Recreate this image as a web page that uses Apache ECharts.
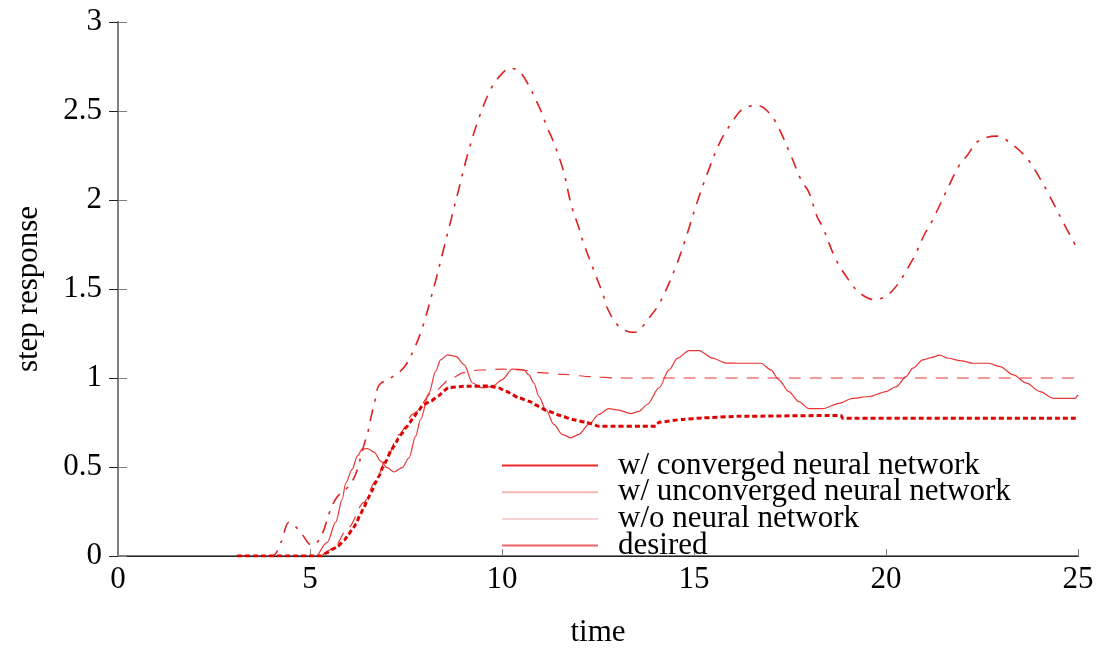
<!DOCTYPE html>
<html>
<head>
<meta charset="utf-8">
<script src="https://cdn.jsdelivr.net/npm/echarts@6/dist/echarts.min.js"></script>
<style>html,body{margin:0;padding:0;background:#fff;}#c{width:1100px;height:649px;}</style>
</head>
<body>
<div id="c"></div>
<script>
const seriesNames = ['w/ converged neural network', 'w/ unconverged neural network', 'w/o neural network', 'desired'];
const xTicks = [0, 5, 10, 15, 20, 25];
const yTicks = [0, 0.5, 1, 1.5, 2, 2.5, 3];

// w/ converged neural network (dotted)
const tC = [3.1, 5.3, 5.45, 5.6, 5.7, 5.9, 6.0, 6.1, 6.2, 6.3, 6.4, 6.5, 6.6, 6.7, 6.8, 6.9, 7.0, 7.1, 7.2, 7.3, 7.4, 7.5, 7.6, 7.7, 7.8, 7.95, 8.15, 8.35, 8.5, 8.6, 9.0, 9.66, 9.92, 10.1, 10.45, 10.7, 10.96, 11.14, 11.53, 11.83, 12.18, 12.52, 14.0, 14.09, 14.7, 15.22, 16.17, 18.83, 18.87, 25];
const vC = [0, 0, 0.02, 0.04, 0.05, 0.09, 0.12, 0.15, 0.18, 0.23, 0.27, 0.32, 0.36, 0.41, 0.45, 0.50, 0.54, 0.59, 0.62, 0.66, 0.69, 0.72, 0.75, 0.78, 0.81, 0.85, 0.87, 0.90, 0.93, 0.945, 0.953, 0.955, 0.944, 0.925, 0.888, 0.869, 0.841, 0.819, 0.789, 0.767, 0.752, 0.729, 0.729, 0.752, 0.767, 0.776, 0.785, 0.79, 0.774, 0.774];

// w/ unconverged neural network (solid)
const tU = [5.2, 5.45, 5.67, 5.84, 5.93, 6.1, 6.23, 6.36, 6.49, 6.67, 6.84, 7.01, 7.19, 7.4, 7.58, 7.75, 7.88, 8.1, 8.27, 8.4, 8.58, 8.8, 9.02, 9.23, 9.49, 9.75, 10.0, 10.27, 10.57, 10.7, 10.83, 10.96, 11.14, 11.35, 11.57, 11.79, 12.0, 12.26, 12.52, 12.78, 13.04, 13.35, 13.57, 13.78, 14.09, 14.35, 14.57, 14.87, 15.13, 15.48, 15.83, 16.17, 16.74, 17.0, 17.21, 17.47, 17.73, 17.99, 18.35, 18.78, 19.13, 19.57, 20.0, 20.27, 20.52, 20.7, 20.96, 21.18, 21.4, 21.62, 21.97, 22.27, 22.67, 22.97, 23.32, 23.66, 24.01, 24.36, 24.92, 25.0];
const vU = [0, 0.077, 0.19, 0.32, 0.41, 0.487, 0.561, 0.60, 0.604, 0.584, 0.533, 0.496, 0.472, 0.496, 0.552, 0.673, 0.767, 0.916, 1.037, 1.102, 1.13, 1.121, 1.074, 0.972, 0.944, 0.953, 0.99, 1.05, 1.046, 1.018, 0.972, 0.897, 0.823, 0.739, 0.683, 0.664, 0.683, 0.739, 0.795, 0.828, 0.819, 0.800, 0.813, 0.851, 0.944, 1.046, 1.112, 1.154, 1.154, 1.112, 1.084, 1.083, 1.083, 1.046, 0.99, 0.923, 0.867, 0.828, 0.828, 0.858, 0.886, 0.896, 0.924, 0.952, 1.008, 1.055, 1.102, 1.115, 1.128, 1.111, 1.096, 1.083, 1.083, 1.064, 1.017, 0.971, 0.924, 0.886, 0.886, 0.905];

// w/o neural network (dash-dot)
const tW = [3.1, 4.0, 4.25, 4.45, 4.6, 4.8, 5.05, 5.2, 5.35, 5.5, 5.7, 6.0, 6.15, 6.25, 6.4, 6.5, 6.6, 6.7, 6.8, 7.1, 7.45, 7.72, 7.93, 8.26, 8.47, 8.68, 8.89, 9.1, 9.38, 9.72, 10.0, 10.2, 10.48, 10.97, 11.18, 11.31, 11.6, 11.8, 12.01, 12.09, 12.43, 12.64, 12.72, 13.0, 13.3, 13.47, 13.8, 14.1, 14.51, 14.8, 15.06, 15.35, 15.69, 16.0, 16.26, 16.6, 16.8, 17.1, 17.52, 17.78, 17.99, 18.2, 18.35, 18.69, 19.03, 19.32, 19.7, 20.16, 20.7, 20.99, 21.2, 21.62, 21.91, 22.12, 22.4, 22.87, 23.3, 23.71, 24.05, 24.21, 24.68, 25.0];
const vW = [0, 0, 0.08, 0.19, 0.17, 0.12, 0.06, 0.08, 0.14, 0.24, 0.33, 0.39, 0.44, 0.5, 0.62, 0.69, 0.79, 0.88, 0.96, 1.0, 1.06, 1.168, 1.285, 1.537, 1.716, 1.895, 2.074, 2.253, 2.449, 2.628, 2.71, 2.74, 2.718, 2.522, 2.405, 2.343, 2.164, 1.974, 1.839, 1.778, 1.582, 1.464, 1.403, 1.30, 1.26, 1.257, 1.33, 1.42, 1.616, 1.795, 1.974, 2.151, 2.331, 2.44, 2.51, 2.53, 2.52, 2.448, 2.252, 2.117, 2.044, 1.909, 1.848, 1.668, 1.55, 1.477, 1.44, 1.489, 1.668, 1.802, 1.881, 2.072, 2.196, 2.252, 2.33, 2.359, 2.31, 2.224, 2.106, 2.044, 1.848, 1.72];

// desired (dashed)
const tD = [5.3, 5.6, 6.0, 6.4, 6.7, 7.0, 7.3, 7.7, 8.2, 8.7, 9.0, 9.4, 10.0, 10.5, 11.0, 11.6, 12.3, 13.0, 25.0];
const vD = [0, 0.04, 0.16, 0.30, 0.42, 0.55, 0.68, 0.80, 0.92, 1.0, 1.03, 1.045, 1.05, 1.045, 1.03, 1.02, 1.008, 1.0, 1.0];

function zip(t, v) { const n = Math.min(t.length, v.length); const out = []; for (let i = 0; i < n; i++) out.push([t[i], v[i]]); return out; }

const FONT = 'Liberation Serif';
const FS = 31;
const chart = echarts.init(document.getElementById('c'), null, { renderer: 'canvas' });
const legendColors = ['#ee2a2a', '#f5b6b6', '#f8d2d2', '#f06262'];

chart.setOption({
  animation: false,
  backgroundColor: '#fff',
  grid: { left: 118, right: 22, top: 22, bottom: 93, containLabel: false, outerBoundsMode: 'none' },
  legend: {
    orient: 'vertical', left: 502, top: 450, padding: 0,
    itemWidth: 96, itemHeight: 2, itemGap: -4.3, icon: 'rect',
    selectedMode: false,
    textStyle: { fontFamily: FONT, fontSize: FS, color: '#000', padding: [0, 0, 0, 15] },
    data: seriesNames.map((n, i) => ({ name: n, itemStyle: { color: legendColors[i] } }))
  },
  xAxis: [{
    type: 'value', min: 0, max: 25, interval: 5,
    name: 'time', nameLocation: 'middle', nameGap: 61,
    nameTextStyle: { fontFamily: FONT, fontSize: FS, color: '#000' },
    axisLine: { show: true, lineStyle: { color: '#808080', width: 2 } },
    axisTick: { show: true, inside: true, length: 7, lineStyle: { color: '#808080', width: 1 } },
    axisLabel: { fontFamily: FONT, fontSize: FS, color: '#000', margin: 8, formatter: v => xTicks.includes(v) ? String(v) : '' },
    splitLine: { show: false }
  }, {
    type: 'value', min: 0, max: 25, interval: 5, position: 'top',
    axisLine: { show: true, lineStyle: { color: '#222', width: 1 } },
    axisTick: { show: false },
    axisLabel: { show: false }, splitLine: { show: false }
  }],
  yAxis: [{
    type: 'value', min: 0, max: 3, interval: 0.5,
    name: 'step response', nameLocation: 'middle', nameGap: 74, nameRotate: 90,
    nameTextStyle: { fontFamily: FONT, fontSize: FS, color: '#000' },
    axisLine: { show: true, lineStyle: { color: '#808080', width: 2 } },
    axisTick: { show: true, inside: true, length: 9, lineStyle: { color: '#808080', width: 1 } },
    axisLabel: { fontFamily: FONT, fontSize: FS, color: '#000', margin: 16, formatter: v => yTicks.includes(v) ? String(v) : '' },
    splitLine: { show: false }
  }, {
    type: 'value', min: 0, max: 3, interval: 0.5, position: 'right',
    axisLine: { show: true, lineStyle: { color: '#808080', width: 2 } },
    axisTick: { show: true, inside: true, length: 9, lineStyle: { color: '#222', width: 1 } },
    axisLabel: { show: false }, splitLine: { show: false }
  }],
  series: [
    {
      name: seriesNames[0], type: 'line', xAxisIndex: 0, yAxisIndex: 0, data: zip(tC, vC),
      showSymbol: false, smooth: 0.2, smoothMonotone: 'x', z: 4,
      lineStyle: { color: '#dd0000', width: 3, type: [5, 3] }, itemStyle: { color: '#dd0000' }
    },
    {
      name: seriesNames[1], type: 'line', xAxisIndex: 0, yAxisIndex: 0, data: zip(tU, vU),
      showSymbol: false, smooth: 0.3, smoothMonotone: 'x', z: 3,
      lineStyle: { color: '#e83535', width: 1.2, type: 'solid' }, itemStyle: { color: '#e83535' }
    },
    {
      name: seriesNames[2], type: 'line', xAxisIndex: 0, yAxisIndex: 0, data: zip(tW, vW),
      showSymbol: false, smooth: 0.35, z: 3,
      lineStyle: { color: '#e02020', width: 1.6, type: [12, 8, 3, 8] }, itemStyle: { color: '#e02020' }
    },
    {
      name: seriesNames[3], type: 'line', xAxisIndex: 0, yAxisIndex: 0, data: zip(tD, vD),
      showSymbol: false, smooth: 0.3, smoothMonotone: 'x', z: 3,
      lineStyle: { color: '#e83535', width: 1.2, type: [12, 9] }, itemStyle: { color: '#e83535' }
    }
  ]
});
</script>
</body>
</html>
